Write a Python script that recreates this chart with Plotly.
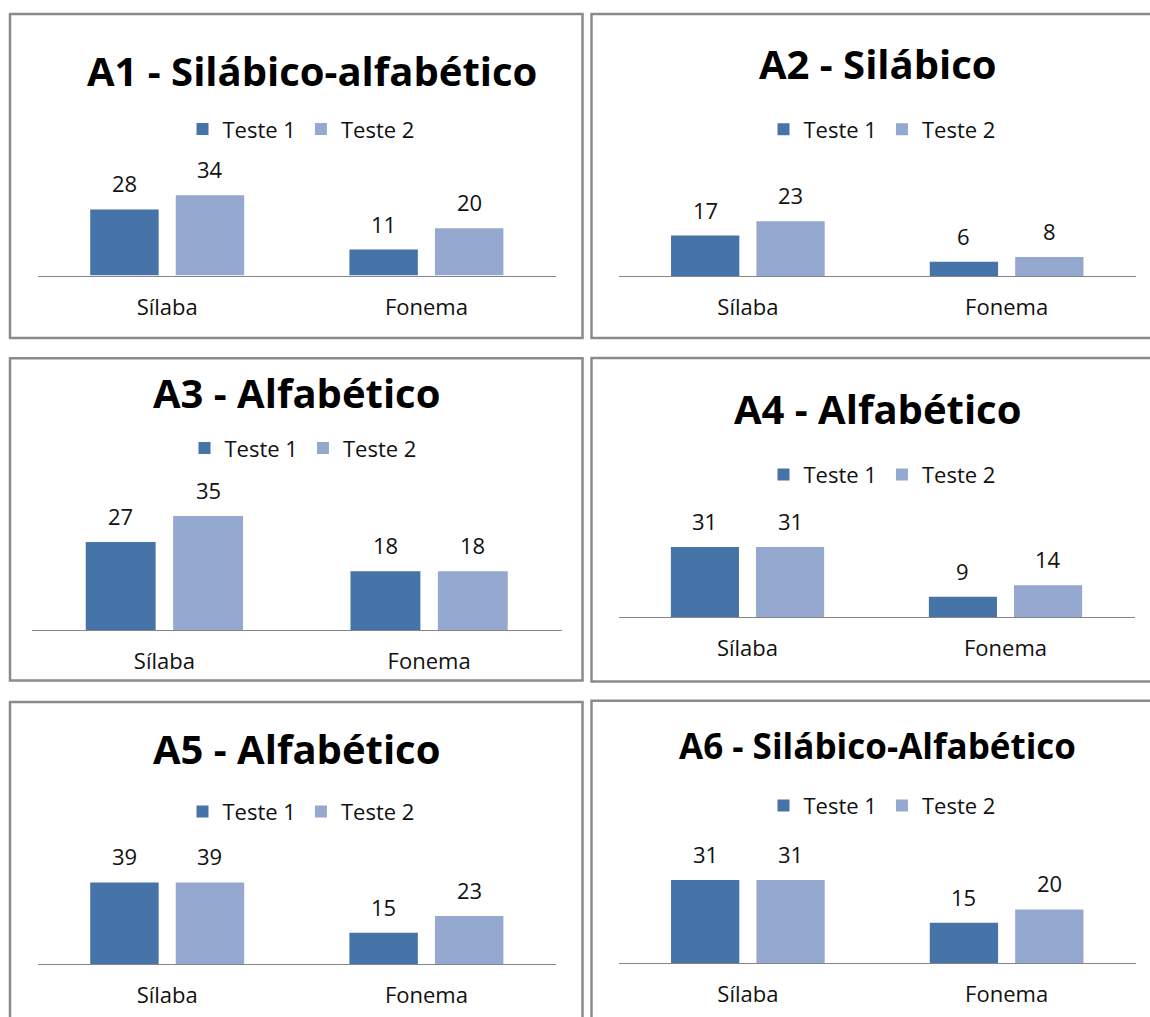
import plotly.graph_objects as go

W, H = 1150, 1017

# ---------------- data ----------------
categories = ["Sílaba", "Fonema"]
series_names = ["Teste 1", "Teste 2"]

a1_teste1 = [28, 11]
a1_teste2 = [34, 20]
a2_teste1 = [17, 6]
a2_teste2 = [23, 8]
a3_teste1 = [27, 18]
a3_teste2 = [35, 18]
a4_teste1 = [31, 9]
a4_teste2 = [31, 14]
a5_teste1 = [39, 15]
a5_teste2 = [39, 23]
a6_teste1 = [31, 15]
a6_teste2 = [31, 20]

titles = [
    "A1 - Silábico-alfabético",
    "A2 - Silábico",
    "A3 - Alfabético",
    "A4 - Alfabético",
    "A5 - Alfabético",
    "A6 - Silábico-Alfabético",
]
values = [
    (a1_teste1, a1_teste2),
    (a2_teste1, a2_teste2),
    (a3_teste1, a3_teste2),
    (a4_teste1, a4_teste2),
    (a5_teste1, a5_teste2),
    (a6_teste1, a6_teste2),
]

# ---------------- styling / layout (pixels) ----------------
colors = ["#4673A8", "#95A9D0"]
FONT = "Open Sans"
TXT = "#111111"
BARGAP = 0.34
BARGROUPGAP = 0.2

# box, plot-area, y-range, title & legend centres (in page pixels)
geom = [
    dict(box=(10, 14, 582.5, 338), left=37.6, right=556, base=275.5, ymax=40, ppu=2.36,
         title=(311.5, 70), tsize=40, legend=(301, 129.2)),
    dict(box=(591.5, 14, 1170, 338), left=618.5, right=1136, base=276, ymax=25, ppu=2.38,
         title=(878, 63.3), tsize=40, legend=(882, 129.5)),
    dict(box=(10, 358.3, 582.5, 680.5), left=32, right=561.5, base=630, ymax=40, ppu=3.26,
         title=(296, 392.5), tsize=40, legend=(303, 448.3)),
    dict(box=(591.5, 358, 1170, 681.5), left=618.5, right=1134.5, base=617, ymax=35, ppu=2.26,
         title=(877, 408.3), tsize=40, legend=(882, 474.7)),
    dict(box=(10, 702, 582.5, 1040), left=37.6, right=556, base=964, ymax=45, ppu=2.09,
         title=(296, 748.3), tsize=40, legend=(301, 811.7)),
    dict(box=(591.5, 700.7, 1170, 1040), left=618.5, right=1136, base=963, ymax=35, ppu=2.68,
         title=(877, 745.5), tsize=35, legend=(882, 805.8)),
]


def px_x(v):
    return v / W


def px_y(v):
    return 1 - v / H


fig = go.Figure()
layout = {}
shapes = []
annotations = []

for k, (g, (t1, t2), title) in enumerate(zip(geom, values, titles)):
    sfx = "" if k == 0 else str(k + 1)
    xa, ya = "x" + sfx, "y" + sfx
    leg = "legend" + sfx
    for s, (name, vals) in enumerate(zip(series_names, (t1, t2))):
        fig.add_trace(go.Bar(
            x=categories, y=vals, name=name,
            marker=dict(color=colors[s], line=dict(width=0)),
            xaxis=xa, yaxis=ya, legend=leg, showlegend=True,
            hoverinfo="skip",
        ))
        # value labels above bars
        off = (s - 0.5) * (1 - BARGAP) / 2
        for i, v in enumerate(vals):
            annotations.append(dict(
                x=i + off, y=v, xref=xa, yref=ya, text=str(v), showarrow=False,
                yanchor="middle", yshift=26,
                font=dict(family=FONT, size=22, color=TXT),
            ))

    top_px = g["base"] - g["ymax"] * g["ppu"]
    layout["xaxis" + sfx] = dict(
        domain=[px_x(g["left"]), px_x(g["right"])], anchor=ya, type="category",
        range=[-0.5, 1.5], showline=True, linecolor="#868686", linewidth=1,
        ticks="", showgrid=False, zeroline=False, fixedrange=True,
        tickfont=dict(family=FONT, size=22, color=TXT), ticklabelstandoff=12,
    )
    layout["yaxis" + sfx] = dict(
        domain=[px_y(g["base"]), px_y(top_px)], anchor=xa, range=[0, g["ymax"]],
        visible=False, showgrid=False, zeroline=False, fixedrange=True,
    )
    layout[leg] = dict(
        x=px_x(g["legend"][0]), y=px_y(g["legend"][1]), xanchor="center", yanchor="middle",
        orientation="h", bgcolor="rgba(0,0,0,0)", borderwidth=0, traceorder="normal",
        font=dict(family=FONT, size=22, color=TXT),
    )
    x0, y0, x1, y1 = g["box"]
    shapes.append(dict(
        type="rect", xref="paper", yref="paper",
        x0=px_x(x0), x1=px_x(x1), y0=px_y(y1), y1=px_y(y0),
        line=dict(color="#8a8a8a", width=2.5), fillcolor="rgba(0,0,0,0)", layer="above",
    ))
    annotations.append(dict(
        x=px_x(g["title"][0]), y=px_y(g["title"][1]), xref="paper", yref="paper",
        text=title, showarrow=False, xanchor="center", yanchor="middle",
        font=dict(family=FONT, size=g["tsize"], color="#000000", weight="bold"),
    ))

fig.update_layout(
    width=W, height=H, autosize=False,
    margin=dict(l=0, r=0, t=0, b=0),
    paper_bgcolor="white", plot_bgcolor="white",
    barmode="group", bargap=BARGAP, bargroupgap=BARGROUPGAP,
    shapes=shapes, annotations=annotations,
    **layout,
)

fig.write_html("out.html", config={"displayModeBar": False})
